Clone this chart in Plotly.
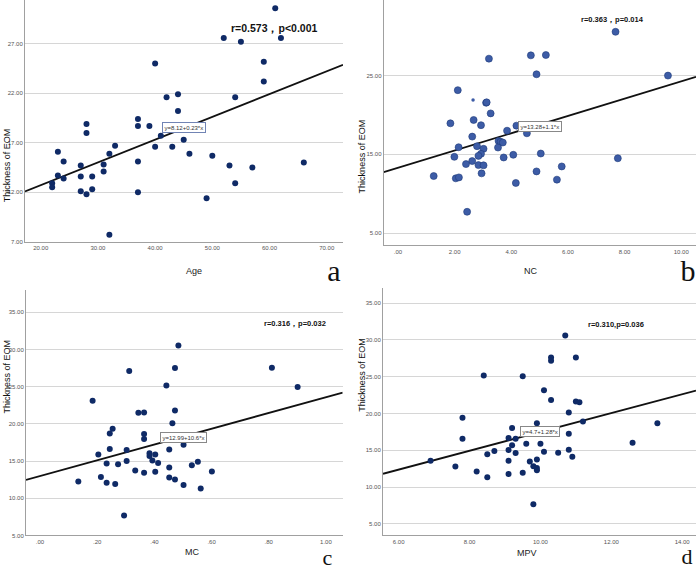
import plotly.graph_objects as go

W, H = 697, 574

# ---------------- data ----------------
age = [61, 52, 55, 62, 40, 59, 59, 42, 44, 54, 44, 37, 28, 37, 39, 28, 41, 45, 33, 40, 43, 23, 32,
       46, 50, 24, 37, 31, 27, 53, 57, 66, 31, 23, 27, 29, 24, 22, 22, 54, 27, 29, 28, 37, 49, 32]
eom_a = [30.6, 27.6, 27.2, 27.6, 25.0, 25.2, 23.2, 21.6, 21.9, 21.6, 20.2, 19.4, 18.9, 18.7, 18.7,
         18.0, 17.7, 17.3, 16.7, 16.6, 16.6, 16.1, 15.9, 15.9, 15.7, 15.1, 15.1, 14.8, 14.7, 14.7,
         14.5, 15.0, 14.1, 13.7, 13.6, 13.6, 13.4, 12.9, 12.5, 12.9, 12.1, 12.3, 11.8, 12.0, 11.4, 7.7]

nc = [7.68, 4.69, 5.22, 3.21, 4.89, 9.53, 2.11, 3.11, 3.13, 3.27, 2.67, 1.85, 2.93, 4.18, 3.85,
      4.55, 2.62, 3.55, 3.62, 3.70, 2.14, 2.79, 3.53, 3.02, 2.93, 2.84, 5.04, 4.07, 1.99, 3.73,
      7.76, 2.62, 2.40, 2.84, 3.02, 5.78, 1.26, 4.89, 2.95, 2.04, 2.15, 5.61, 4.16, 2.44]
eom_b = [30.56, 27.57, 27.61, 27.15, 25.17, 25.0, 23.15, 21.55, 21.6, 20.2, 19.36, 18.94, 18.7,
         18.64, 18.0, 17.67, 17.25, 16.7, 16.6, 16.5, 15.9, 16.03, 15.86, 15.7, 15.06, 14.8, 15.1,
         14.94, 14.68, 14.6, 14.5, 14.14, 13.76, 13.63, 13.6, 13.46, 12.24, 12.83, 12.58, 11.95,
         12.07, 11.78, 11.36, 7.7]
nc_small = [2.65]
eom_b_small = [21.9]

mc = [0.484, 0.472, 0.811, 0.312, 0.442, 0.901, 0.184, 0.344, 0.364, 0.472, 0.463, 0.254, 0.244,
      0.364, 0.364, 0.244, 0.303, 0.502, 0.452, 0.204, 0.383, 0.383, 0.403, 0.393, 0.413, 0.303,
      0.233, 0.273, 0.552, 0.531, 0.452, 0.333, 0.364, 0.403, 0.601, 0.134, 0.213, 0.452, 0.472,
      0.233, 0.263, 0.502, 0.562, 0.294]
eom_c = [30.55, 27.51, 27.56, 27.11, 25.15, 24.97, 23.1, 21.5, 21.54, 21.8, 20.1, 19.36, 18.7,
         18.64, 17.97, 16.64, 16.5, 17.2, 16.55, 15.88, 16.06, 15.7, 15.88, 15.08, 14.76, 15.03,
         14.67, 14.58, 14.9, 14.45, 14.14, 13.74, 13.43, 13.56, 13.6, 12.27, 12.85, 12.8, 12.53,
         12.09, 11.91, 11.78, 11.33, 7.67]

mpv = [10.7, 10.3, 10.3, 11.0, 8.4, 9.5, 10.1, 10.3, 11.0, 11.1, 10.8, 7.8, 9.9, 13.3, 11.2, 9.2,
       10.8, 9.1, 9.3, 7.8, 9.6, 10.0, 9.2, 12.6, 9.1, 8.7, 10.8, 9.3, 10.1, 8.5, 10.5, 10.9, 6.9,
       9.1, 9.7, 9.9, 7.6, 9.8, 9.9, 9.9, 8.2, 9.5, 9.1, 8.5, 9.8]
eom_d = [30.59, 27.61, 27.16, 27.61, 25.18, 25.05, 23.15, 21.85, 21.62, 21.53, 20.14, 19.41, 18.69,
         18.69, 18.92, 18.02, 17.25, 16.67, 16.58, 16.58, 15.9, 15.9, 15.68, 16.04, 15.05, 14.91,
         15.09, 14.64, 14.82, 14.46, 14.68, 14.14, 13.6, 13.6, 13.47, 13.74, 12.79, 12.84, 12.61,
         12.3, 12.12, 11.94, 11.8, 11.35, 7.66]

# regression: intercept, slope
fit_a = (8.12, 0.23)
fit_b = (13.28, 1.1)
fit_c = (12.99, 10.6)
fit_d = (4.7, 1.28)

eq_a = "y=8.12+0.23*x"
eq_b = "y=13.28+1.1*x"
eq_c = "y=12.99+10.6*x"
eq_d = "y=4.7+1.28*x"

stat_a = "r=0.573，p<0.001"
stat_b = "r=0.363，p=0.014"
stat_c = "r=0.316，p=0.032"
stat_d = "r=0.310,p=0.036"

panel_letters = ["a", "b", "c", "d"]
x_titles = ["Age", "NC", "MC", "MPV"]
y_title = "Thickness of EOM"

xt_a = [20, 30, 40, 50, 60, 70]
xt_a_txt = ["20.00", "30.00", "40.00", "50.00", "60.00", "70.00"]
yt_a = [7, 12, 17, 22, 27]
yt_a_txt = ["7.00", "12.00", "17.00", "22.00", "27.00"]
xt_b = [0, 2, 4, 6, 8, 10]
xt_b_txt = [".00", "2.00", "4.00", "6.00", "8.00", "10.00"]
yt_b = [5, 15, 25]
yt_b_txt = ["5.00", "15.00", "25.00"]
xt_c = [0, 0.2, 0.4, 0.6, 0.8, 1.0]
xt_c_txt = [".00", ".20", ".40", ".60", ".80", "1.00"]
yt_cd = [5, 10, 15, 20, 25, 30, 35]
yt_cd_txt = ["5.00", "10.00", "15.00", "20.00", "25.00", "30.00", "35.00"]
xt_d = [6, 8, 10, 12, 14]
xt_d_txt = ["6.00", "8.00", "10.00", "12.00", "14.00"]

# ---------------- layout helpers ----------------
def px(x):
    return x / W

def py(y):
    return 1 - y / H

NAVY = "#0f2a66"
LIGHT = "#3d5ca6"
SANS = "Liberation Sans Narrow, Arial Narrow, Liberation Sans, Arial, sans-serif"
TICKFONT = dict(family=SANS, size=6, color="#555")

panels = [
    dict(x=age, y=eom_a, fit=fit_a, xr=[17.25, 72.85], yr=[7.0, 31.43],
         xd=[px(25), px(343)], yd=[py(243), py(0)], xt=xt_a, xtt=xt_a_txt, yt=yt_a, ytt=yt_a_txt,
         color=NAVY),
    dict(x=nc, y=eom_b, fit=fit_b, xr=[-0.505, 10.52], yr=[3.43, 34.6],
         xd=[px(383.7), px(696)], yd=[py(246.7), py(0)], xt=xt_b, xtt=xt_b_txt, yt=yt_b, ytt=yt_b_txt,
         color=LIGHT),
    dict(x=mc, y=eom_c, fit=fit_c, xr=[-0.049, 1.0586], yr=[5.0, 37.94],
         xd=[px(26), px(342.7)], yd=[py(538.3), py(292)], xt=xt_c, xtt=xt_c_txt, yt=yt_cd, ytt=yt_cd_txt,
         color=NAVY),
    dict(x=mpv, y=eom_d, fit=fit_d, xr=[5.557, 14.39], yr=[3.43, 36.99],
         xd=[px(383), px(696)], yd=[py(538.3), py(290)], xt=xt_d, xtt=xt_d_txt, yt=yt_cd, ytt=yt_cd_txt,
         color=NAVY),
]

fig = go.Figure()
layout = {}
for i, p in enumerate(panels, start=1):
    xa = "x" if i == 1 else f"x{i}"
    ya = "y" if i == 1 else f"y{i}"
    b0, b1 = p["fit"]
    lx = [p["xr"][0], p["xr"][1]]
    ly = [b0 + b1 * v for v in lx]
    fig.add_trace(go.Scatter(x=lx, y=ly, mode="lines", line=dict(color="#111", width=1.8),
                             xaxis=xa, yaxis=ya, showlegend=False, hoverinfo="skip"))
    if i == 2:
        mk = dict(color=p["color"], size=7, line=dict(color="#1f3a7a", width=0.6))
    else:
        mk = dict(color=p["color"], size=6, line=dict(width=0))
    fig.add_trace(go.Scatter(x=p["x"], y=p["y"], mode="markers", marker=mk,
                             xaxis=xa, yaxis=ya, showlegend=False))
    if i == 2:
        fig.add_trace(go.Scatter(x=nc_small, y=eom_b_small, mode="markers",
                                 marker=dict(color=LIGHT, size=3.5), xaxis=xa, yaxis=ya,
                                 showlegend=False))
    kx = "xaxis" if i == 1 else f"xaxis{i}"
    ky = "yaxis" if i == 1 else f"yaxis{i}"
    layout[kx] = dict(domain=p["xd"], range=p["xr"], anchor=ya, showgrid=False, zeroline=False,
                      showline=True, linecolor="#a0a0a0", linewidth=1, ticks="",
                      tickvals=p["xt"], ticktext=p["xtt"], tickfont=TICKFONT, fixedrange=True)
    layout[ky] = dict(domain=p["yd"], range=p["yr"], anchor=xa, showgrid=True, gridcolor="#d6d6d6",
                      gridwidth=1, zeroline=False, showline=True, linecolor="#a0a0a0", linewidth=1,
                      ticks="", tickvals=p["yt"], ticktext=p["ytt"], tickfont=TICKFONT, fixedrange=True)

# overlay pixel axis for panel letters (can sit at the very bottom edge)
layout["xaxis5"] = dict(domain=[0, 1], range=[0, W], anchor="y5", visible=False, fixedrange=True)
layout["yaxis5"] = dict(domain=[0, 1], range=[H, 0], anchor="x5", visible=False, fixedrange=True)
letter_x = [334, 688, 327.5, 687]
letter_y = [275, 275, 562, 561]
letter_size = [30, 30, 22, 22]
for t, lx_, ly_, fs in zip(panel_letters, letter_x, letter_y, letter_size):
    fig.add_trace(go.Scatter(x=[lx_], y=[ly_], mode="text", text=[t], textposition="middle center",
                             textfont=dict(family="Liberation Serif, DejaVu Serif, serif", size=fs,
                                           color="#111"),
                             xaxis="x5", yaxis="y5", cliponaxis=False, showlegend=False,
                             hoverinfo="skip"))

fig.update_layout(**layout)

ann = []
# stats text
for t, xx, yy, fs in [(stat_a, 274, 20, 10.5), (stat_b, 645.5, 13.5, 7.5),
                      (stat_c, 294.7, 325, 7.5), (stat_d, 646, 326.7, 7.5)]:
    ann.append(dict(x=px(xx), y=py(yy), xref="paper", yref="paper", text=f"<b>{t}</b>",
                    showarrow=False, font=dict(family=SANS, size=fs, color="#111")))
# equation boxes
eqs = [(eq_a, "x", "y", 45.1, 18.5, "#7184b4"), (eq_b, "x2", "y2", 5.03, 18.56, "#888"),
       (eq_c, "x3", "y3", 0.503, 18.18, "#888"), (eq_d, "x4", "y4", 9.99, 17.5, "#888")]
for t, xr, yr, xv, yv, bc in eqs:
    ann.append(dict(x=xv, y=yv, xref=xr, yref=yr, text=t, showarrow=False,
                    font=dict(family=SANS, size=6, color="#333"), bgcolor="white",
                    bordercolor=bc, borderwidth=1, borderpad=1.5))
# axis titles
for t, xx, yy in zip(x_titles, [184, 540, 183, 538.7], [272, 272, 561.7, 563.3]):
    ann.append(dict(x=px(xx), y=py(yy), xref="paper", yref="paper", text=t, showarrow=False,
                    font=dict(family=SANS, size=9, color="#222")))
for xx, yy in [(1, 128), (362, 119), (1, 416.7), (362, 415)]:
    ann.append(dict(x=px(xx), y=py(yy), xref="paper", yref="paper", text=y_title,
                    showarrow=False, textangle=-90, borderpad=0,
                    font=dict(family="Liberation Sans, Arial, sans-serif", size=9, color="#111")))

fig.update_layout(width=W, height=H, margin=dict(l=0, r=0, t=0, b=0), annotations=ann,
                  paper_bgcolor="white", plot_bgcolor="rgba(0,0,0,0)", showlegend=False)

fig.write_html("out.html")
